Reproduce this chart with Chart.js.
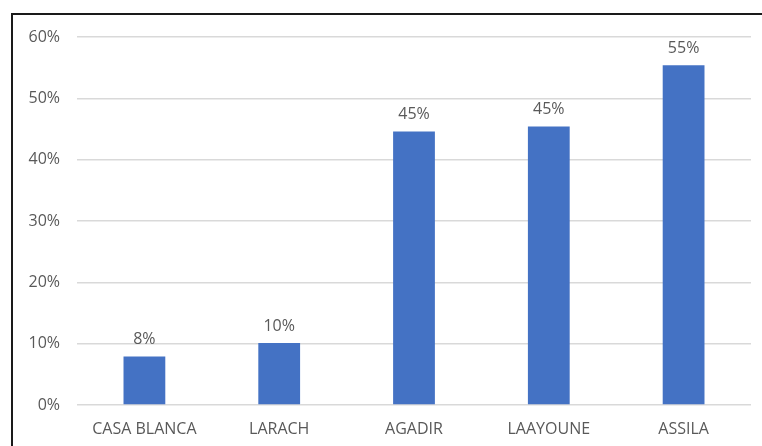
<!DOCTYPE html>
<html>
<head>
<meta charset="utf-8">
<script src="https://cdn.jsdelivr.net/npm/chart.js@4.4.1/dist/chart.umd.min.js"></script>
<style>
    html, body { margin: 0; padding: 0; background: #fff; }
    #wrap { position: relative; width: 762px; height: 446px; overflow: hidden; }
    #frame {
        position: absolute; left: 11px; top: 13px; width: 800px; height: 500px;
        border-left: 2px solid #1a1a1a; border-top: 2px solid #1a1a1a;
        pointer-events: none;
    }
    #city_chart { position: absolute; left: 0; top: 0; }
</style>
</head>
<body>
<div id="wrap">
    <canvas id="city_chart" width="762" height="446"></canvas>
    <div id="frame"></div>
</div>
<script>
    const cities = ['CASA BLANCA', 'LARACH', 'AGADIR', 'LAAYOUNE', 'ASSILA'];
    const shares = [0.079, 0.101, 0.446, 0.454, 0.554];
    const y_ticks = [0, 0.1, 0.2, 0.3, 0.4, 0.5, 0.6];

    const text_color = '#595959';
    const label_font = { family: 'Open Sans', size: 16 };

    // percent text above each bar
    const barLabels = {
        id: 'barLabels',
        afterDatasetsDraw(chart) {
            const ctx = chart.ctx;
            const meta = chart.getDatasetMeta(0);
            ctx.save();
            ctx.font = `${label_font.size}px ${label_font.family}`;
            ctx.fillStyle = text_color;
            ctx.textAlign = 'center';
            ctx.textBaseline = 'bottom';
            meta.data.forEach((bar, i) => {
                ctx.fillText(`${Math.round(shares[i] * 100)}%`, bar.x, bar.y - 9);
            });
            ctx.restore();
        }
    };

    let chartCanvas = document.getElementById('city_chart').getContext('2d');
    let chartObject = new Chart(chartCanvas, {
        type: 'bar',
        data: {
            labels: cities,
            datasets: [{
                data: shares,
                backgroundColor: '#4472c4',
                borderWidth: 0,
                categoryPercentage: 1,
                barPercentage: 0.31,
            }],
        },
        options: {
            responsive: false,
            animation: false,
            layout: { padding: { left: 0, right: 11, top: 37, bottom: 0 } },
            plugins: {
                legend: { display: false },
                tooltip: { enabled: false },
            },
            scales: {
                x: {
                    grid: { display: false, drawTicks: false },
                    border: { display: false },
                    ticks: { color: text_color, font: label_font, padding: 15, maxRotation: 0 },
                    afterFit: function(scale) { scale.height = 41; },
                },
                y: {
                    min: 0,
                    max: 0.6,
                    afterBuildTicks: function(scale) {
                        scale.ticks = y_ticks.map(v => ({ value: v }));
                    },
                    grid: { color: '#d9d9d9', lineWidth: 1.5, drawTicks: false },
                    border: { display: false },
                    ticks: {
                        color: text_color,
                        font: label_font,
                        padding: 17,
                        callback: function(tick) {
                            return `${Math.round(tick * 100)}%`;
                        },
                    },
                    afterFit: function(scale) { scale.width = 77; },
                }
            }
        },
        plugins: [barLabels]
    });
</script>
</body>
</html>
